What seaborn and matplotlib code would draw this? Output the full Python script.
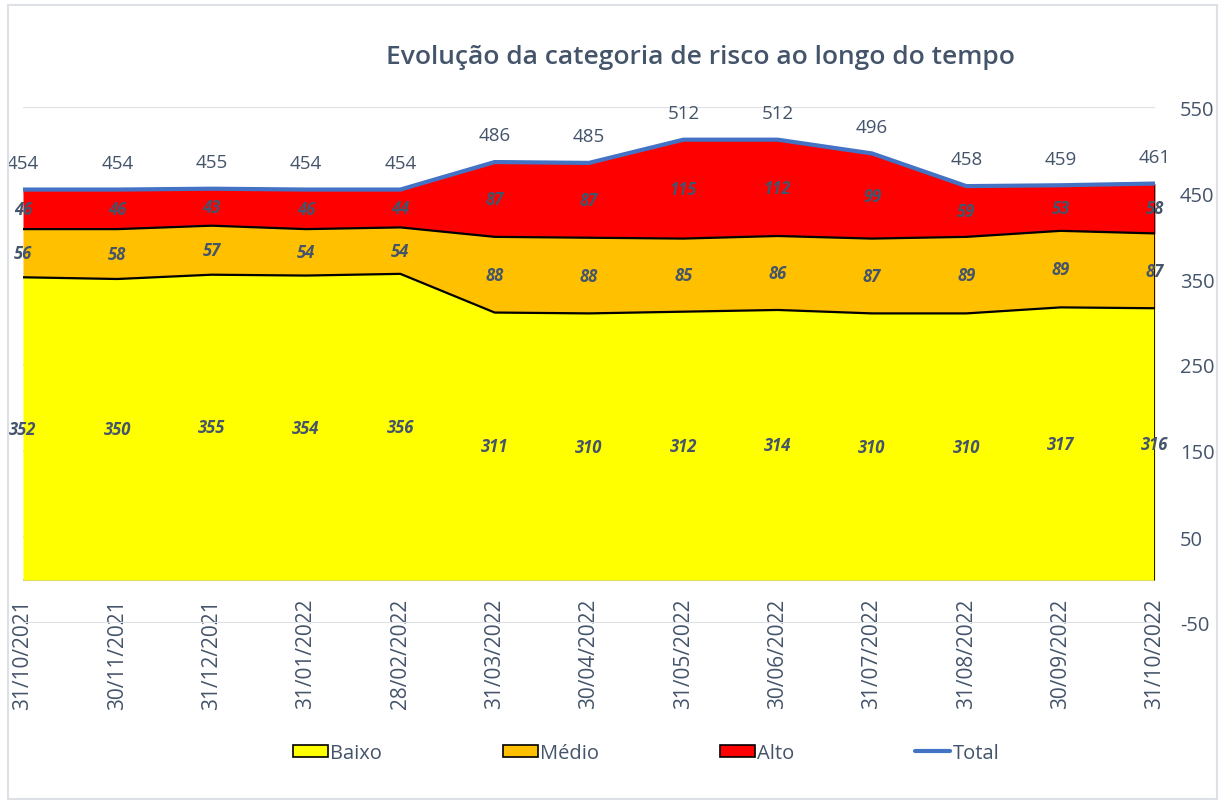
import matplotlib
matplotlib.use("Agg")
import matplotlib.pyplot as plt
import matplotlib.transforms as mtransforms
import seaborn as sns
import pandas as pd
from matplotlib.patches import Patch, Rectangle
from matplotlib.lines import Line2D

# Data
dates = ["31/10/2021", "30/11/2021", "31/12/2021", "31/01/2022", "28/02/2022",
         "31/03/2022", "30/04/2022", "31/05/2022", "30/06/2022", "31/07/2022",
         "31/08/2022", "30/09/2022", "31/10/2022"]
baixo = [352, 350, 355, 354, 356, 311, 310, 312, 314, 310, 310, 317, 316]
medio = [56, 58, 57, 54, 54, 88, 88, 85, 86, 87, 89, 89, 87]
alto = [46, 46, 43, 46, 44, 87, 87, 115, 112, 99, 59, 53, 58]
total = [454, 454, 455, 454, 454, 486, 485, 512, 512, 496, 458, 459, 461]
y_ticks = [-50, 50, 150, 250, 350, 450, 550]

TXT = "#44546A"

sns.set_theme(style="white")
plt.rcParams["font.family"] = ["Open Sans", "DejaVu Sans"]
plt.rcParams["axes.unicode_minus"] = False

df = pd.DataFrame({"x": range(len(dates)), "Baixo": baixo, "Médio": medio,
                   "Alto": alto, "Total": total})
df["c1"] = df["Baixo"]
df["c2"] = df["Baixo"] + df["Médio"]
df["c3"] = df["c2"] + df["Alto"]

fig = plt.figure(figsize=(12.19, 8.03), dpi=100)
ax = fig.add_axes([23 / 1219, 1 - 624 / 803, (1155 - 23) / 1219, (624 - 108) / 803])

# outer border
fig.patches.append(Rectangle((8 / 1219, 3 / 803), 1209 / 1219, 794 / 803,
                             transform=fig.transFigure, fill=False,
                             edgecolor="#DDE1E6", linewidth=1.5))

ax.stackplot(df["x"], df["Baixo"], df["Médio"], df["Alto"],
             colors=["#FFFF00", "#FFC000", "#FF0000"], linewidth=0, zorder=2)
ax.plot(df["x"], df["c1"], color="black", linewidth=1.6, zorder=3)
ax.plot(df["x"], df["c2"], color="black", linewidth=1.6, zorder=3)
ax.vlines(df["x"].iloc[-1], 0, df["c3"].iloc[-1], color="black", linewidth=2, zorder=3)
sns.lineplot(data=df, x="x", y="Total", color="#4472C4", linewidth=3, ax=ax, zorder=4)

# data labels
lab = dict(ha="center", va="center", fontsize=12, fontweight="bold",
           style="italic", color=TXT, zorder=5)
for i, row in df.iterrows():
    ax.text(row["x"], row["Baixo"] / 2, str(row["Baixo"]), **lab)
    ax.text(row["x"], row["c1"] + row["Médio"] / 2, str(row["Médio"]), **lab)
    ax.text(row["x"], row["c2"] + row["Alto"] / 2, str(row["Alto"]), **lab)
    ax.text(row["x"], row["Total"] + 31, str(row["Total"]), ha="center", va="center",
            fontsize=13.5, color=TXT, zorder=5)

ax.set_xlim(0, len(dates) - 1)
ax.set_ylim(-50, 550)
ax.set_yticks(y_ticks)
ax.yaxis.tick_right()
ax.tick_params(axis="y", length=0, pad=18, labelsize=14.5, labelcolor=TXT)
for t in ax.get_yticklabels():
    t.set_horizontalalignment("left")
ax.set_xticks(df["x"])
ax.set_xticklabels(dates, rotation=90, fontsize=15, color=TXT)
ax.tick_params(axis="x", length=0)
for t in ax.get_xticklabels():
    t.set_verticalalignment("top")
    t.set_transform(mtransforms.blended_transform_factory(ax.transData, ax.transData)
                    + mtransforms.ScaledTranslation(0, -0.18, fig.dpi_scale_trans))
    t.set_y(0)
ax.set_xlabel("")
ax.set_ylabel("")
for s in ax.spines.values():
    s.set_visible(False)
ax.grid(axis="y", color="#DDE1E6", linewidth=1.5, zorder=0)
ax.set_axisbelow(True)
ax.axhline(0, color="#BFBFBF", linewidth=1.5, zorder=1)

fig.text(700 / 1219, 1 - 58 / 803, "Evolução da categoria de risco ao longo do tempo",
         ha="center", va="center", fontsize=19, fontweight="semibold", color=TXT)

handles = [Patch(facecolor="#FFFF00", edgecolor="black", linewidth=1.2),
           Patch(facecolor="#FFC000", edgecolor="black", linewidth=1.2),
           Patch(facecolor="#FF0000", edgecolor="black", linewidth=1.2),
           Line2D([0], [0], color="#4472C4", linewidth=3)]
fig.legend(handles, ["Baixo", "Médio", "Alto", "Total"], loc="center",
           bbox_to_anchor=(646 / 1219, 1 - 754 / 803), ncol=4, frameon=False,
           fontsize=14.5, labelcolor=TXT, handlelength=1.75, handleheight=0.6,
           handletextpad=0.1, columnspacing=6.0)

fig.savefig("out.png", dpi=100, facecolor="white")
